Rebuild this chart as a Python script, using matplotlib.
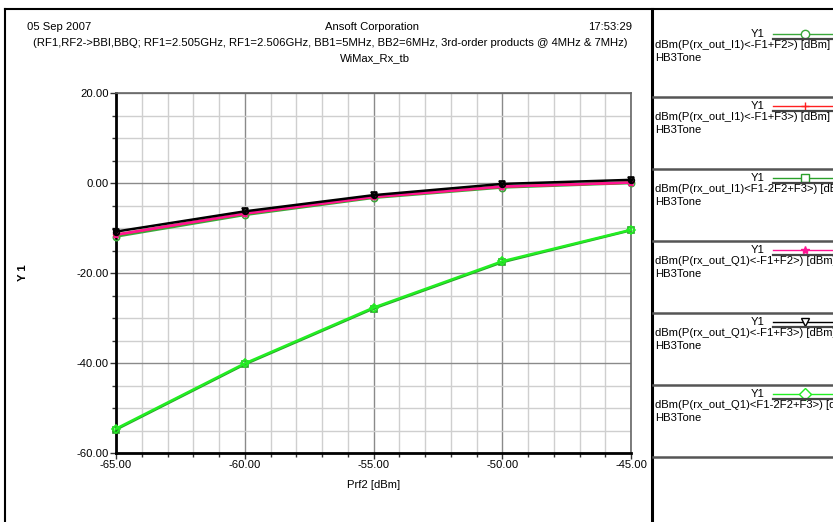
import numpy as np
import matplotlib
matplotlib.use("Agg")
import matplotlib.pyplot as plt
from matplotlib.lines import Line2D
from matplotlib.ticker import MultipleLocator, FormatStrFormatter

plt.rcParams["font.family"] = ["Liberation Sans", "DejaVu Sans"]

# ── data ─────────────────────────────────────────────────────────────────────
prf2 = [-65, -60, -55, -50, -45]
i1_f1_f2 = [-11.9, -7.1, -3.3, -1.0, 0.0]         # green circle
i1_f1_f3 = [-11.5, -6.8, -3.1, -0.8, 0.1]         # red plus
i1_f1_2f2_f3 = [-54.8, -40.3, -27.9, -17.6, -10.5]  # dark green square
q1_f1_f2 = [-11.5, -6.8, -3.1, -0.8, 0.1]         # magenta asterisk
q1_f1_f3 = [-10.8, -6.3, -2.7, -0.2, 0.7]         # black triangle
q1_f1_2f2_f3 = [-54.6, -40.1, -27.7, -17.4, -10.4]  # bright green diamond

SERIES = [
    ("dBm(P(rx_out_I1)<-F1+F2>) [dBm]", i1_f1_f2, "#3aa83a", "o"),
    ("dBm(P(rx_out_I1)<-F1+F3>) [dBm]", i1_f1_f3, "#ff2020", "+"),
    ("dBm(P(rx_out_I1)<F1-2F2+F3>) [dBm]", i1_f1_2f2_f3, "#2aa02a", "s"),
    ("dBm(P(rx_out_Q1)<-F1+F2>) [dBm]", q1_f1_f2, "#ff1493", "*"),
    ("dBm(P(rx_out_Q1)<-F1+F3>) [dBm]", q1_f1_f3, "#000000", "v"),
    ("dBm(P(rx_out_Q1)<F1-2F2+F3>) [dBm]", q1_f1_2f2_f3, "#22ee22", "D"),
]

W, H = 833, 522
FS = 8.1


def fx(x):
    return x / W


def fy(y):
    return 1 - y / H


fig = plt.figure(figsize=(W / 100, H / 100), dpi=100)
fig.patch.set_facecolor("white")

# ── main axes ────────────────────────────────────────────────────────────────
ax = fig.add_axes([fx(116), fy(453), fx(631) - fx(116), fy(93) - fy(453)])
for label, vals, col, mk in SERIES:
    ax.plot(prf2, vals, color=col, lw=1.8, marker=mk, ms=4.5,
            mfc="none", mec=col, mew=1.2, zorder=3, clip_on=False)
# black outline markers on the upper curve like the reference
ax.plot(prf2, q1_f1_f3, ls="none", marker="o", ms=4, mfc="none", mec="black",
        mew=1.3, zorder=4, clip_on=False)

ax.set_xlim(-65, -45)
ax.set_ylim(-60, 20)
ax.xaxis.set_major_locator(MultipleLocator(5))
ax.xaxis.set_minor_locator(MultipleLocator(1))
ax.yaxis.set_major_locator(MultipleLocator(20))
ax.yaxis.set_minor_locator(MultipleLocator(5))
ax.xaxis.set_major_formatter(FormatStrFormatter("%.2f"))
ax.yaxis.set_major_formatter(FormatStrFormatter("%.2f"))
ax.grid(which="major", color="#8a8a8a", lw=1.0, zorder=0)
ax.grid(which="minor", color="#cfcfcf", lw=1.0, zorder=0)
ax.set_axisbelow(True)
ax.tick_params(which="both", direction="out", length=4, width=1, color="#333333",
               labelsize=FS, pad=1)
ax.tick_params(which="minor", length=3)
for s in ("left", "bottom"):
    ax.spines[s].set_linewidth(2.0)
    ax.spines[s].set_color("black")
for s in ("top", "right"):
    ax.spines[s].set_linewidth(1.2)
    ax.spines[s].set_color("#666666")
ax.set_xlabel("Prf2 [dBm]", fontsize=FS)
ax.xaxis.set_label_coords(0.5, -27 / 360)
ax.set_ylabel("Y 1", fontsize=FS, fontweight="bold")
ax.yaxis.set_label_coords(-88 / 515, 0.5)

# ── header text ──────────────────────────────────────────────────────────────
fig.text(fx(27), fy(27), "05 Sep 2007", fontsize=FS, va="center", ha="left")
fig.text(fx(372), fy(27), "Ansoft Corporation", fontsize=FS, va="center", ha="center")
fig.text(fx(632), fy(27), "17:53:29", fontsize=FS, va="center", ha="right")
fig.text(fx(330), fy(43),
         "(RF1,RF2->BBI,BBQ; RF1=2.505GHz, RF1=2.506GHz, BB1=5MHz, BB2=6MHz, "
         "3rd-order products @ 4MHz & 7MHz)",
         fontsize=FS, va="center", ha="center")
fig.text(fx(375), fy(58), "WiMax_Rx_tb", fontsize=FS, va="center", ha="center")

# ── frames ───────────────────────────────────────────────────────────────────
frame = dict(transform=fig.transFigure, clip_on=False)
fig.add_artist(Line2D([fx(5), 1], [fy(9), fy(9)], color="black", lw=1.5, **frame))
fig.add_artist(Line2D([fx(5), fx(5)], [fy(9), 0], color="black", lw=1.5, **frame))
fig.add_artist(Line2D([fx(652), fx(652)], [fy(9), 0], color="black", lw=2.2, **frame))

# ── legend panel on the right (texts run off the edge as in the reference) ────
seps = [97, 169, 241, 313, 385, 457]
for s in seps:
    fig.add_artist(Line2D([fx(653), 1], [fy(s), fy(s)], color="#555555", lw=1.8, **frame))
tops = [25] + seps[:-1]
for (label, vals, col, mk), t in zip(SERIES, tops):
    yy = t + 9
    fig.text(fx(765), fy(yy), "Y1", fontsize=FS, ha="right", va="center")
    fig.add_artist(Line2D([fx(773), 1], [fy(yy), fy(yy)], color=col, lw=1.0, **frame))
    fig.add_artist(Line2D([fx(805)], [fy(yy)], color=col, marker=mk, ms=6,
                          mfc="white" if mk not in ("+", "*") else col, mec=col,
                          mew=1.0, **frame))
    fig.add_artist(Line2D([fx(773), 1], [fy(yy + 5), fy(yy + 5)], color="#444444",
                          lw=1.6, **frame))
    fig.text(fx(655), fy(t + 20), label, fontsize=FS, ha="left", va="center")
    fig.text(fx(655), fy(t + 33), "HB3Tone", fontsize=FS, ha="left", va="center")

fig.savefig("out.png", dpi=100)
